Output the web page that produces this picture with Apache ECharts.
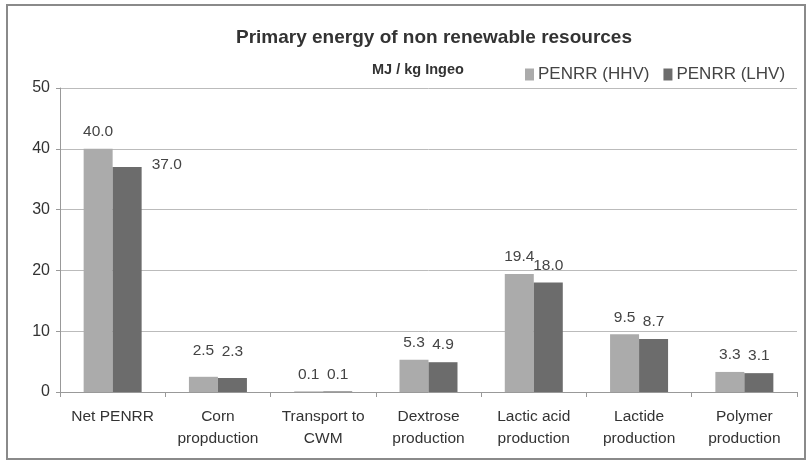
<!DOCTYPE html>
<html>
<head>
<meta charset="utf-8">
<script src="https://cdn.jsdelivr.net/npm/echarts@6/dist/echarts.min.js"></script>
<style>
  html, body { margin: 0; padding: 0; background: #fff; }
  #main { width: 808px; height: 467px; }
</style>
</head>
<body>
<div id="main"></div>
<script>
var categories = ['Net PENRR', 'Corn\npropduction', 'Transport to\nCWM', 'Dextrose\nproduction',
    'Lactic acid\nproduction', 'Lactide\nproduction', 'Polymer\nproduction'];
var hhvValues = [40.0, 2.5, 0.1, 5.3, 19.4, 9.5, 3.3];
var lhvValues = [37.0, 2.3, 0.1, 4.9, 18.0, 8.7, 3.1];
var yTicks = [0, 10, 20, 30, 40, 50];

var myChart = echarts.init(document.getElementById('main'));

var labelStyle = {
    show: true,
    position: 'top',
    distance: 9,
    color: '#444',
    fontSize: 15.5,
    fontFamily: 'Liberation Sans',
    formatter: function(p) { return p.value.toFixed(1); }
};

// a few labels sit off their usual spot in the original
var toItems = function(values, isLhv) {
    return values.map(function(v, i) {
        if (isLhv && i == 0) {
            return {
                value: v,
                label: { position: ['100%', 0], offset: [10, -2], align: 'left', verticalAlign: 'middle' }
            };
        }
        if (i == 1) {
            return { value: v, label: { distance: 18 } };
        }
        return v;
    });
};

var option = {
    animation: false,
    backgroundColor: '#fff',
    textStyle: { fontFamily: 'Liberation Sans' },
    graphic: [{
        type: 'rect',
        shape: { x: 7, y: 5, width: 798, height: 454 },
        style: { fill: 'none', stroke: '#8a8a8a', lineWidth: 2 }
    }, {
        type: 'text',
        left: 372,
        top: 62,
        style: { text: 'MJ / kg Ingeo', fill: '#333', font: 'bold 14.5px Liberation Sans' }
    }],
    title: {
        text: 'Primary energy of non renewable resources',
        left: 429,
        textAlign: 'center',
        top: 23,
        textStyle: { fontSize: 19, fontWeight: 'bold', color: '#333' }
    },
    legend: {
        left: 520,
        top: 61,
        icon: 'rect',
        itemWidth: 9,
        itemHeight: 12,
        itemGap: 14,
        itemStyle: { borderWidth: 0 },
        textStyle: { fontSize: 17, color: '#444', padding: [0, 0, 0, -1] },
        data: ['PENRR (HHV)', 'PENRR (LHV)']
    },
    grid: { left: 60, right: 11, top: 88, bottom: 75 },
    xAxis: {
        type: 'category',
        data: categories,
        axisLine: { lineStyle: { color: '#999' } },
        axisTick: { show: true, length: 5, lineStyle: { color: '#999' } },
        axisLabel: { interval: 0, hideOverlap: false, color: '#333', fontSize: 15.5, lineHeight: 22, margin: 14 }
    },
    yAxis: {
        type: 'value',
        min: yTicks[0],
        max: yTicks[yTicks.length - 1],
        interval: 10,
        axisLine: { show: true, lineStyle: { color: '#999' } },
        axisTick: { show: true, length: 4, lineStyle: { color: '#999' } },
        axisLabel: { color: '#333', fontSize: 16, margin: 10 },
        splitLine: { lineStyle: { color: '#bbb', width: 1 } }
    },
    series: [{
        name: 'PENRR (HHV)',
        type: 'bar',
        data: toItems(hhvValues, false),
        barWidth: 29,
        barGap: '0%',
        itemStyle: { color: '#ababab' },
        label: labelStyle
    }, {
        name: 'PENRR (LHV)',
        type: 'bar',
        data: toItems(lhvValues, true),
        barWidth: 29,
        itemStyle: { color: '#6c6c6c' },
        label: labelStyle
    }]
};

myChart.setOption(option);
</script>
</body>
</html>
